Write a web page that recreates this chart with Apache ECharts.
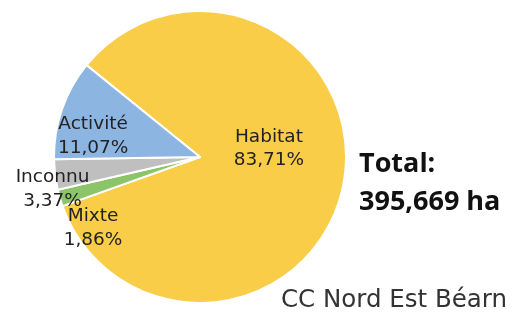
<!DOCTYPE html>
<html>
<head>
<meta charset="utf-8">
<script src="https://cdn.jsdelivr.net/npm/echarts@6/dist/echarts.min.js"></script>
<style>
  html, body { margin: 0; padding: 0; background: #fff; }
  #chart { width: 512px; height: 314px; }
</style>
</head>
<body>
<div id="chart"></div>
<script>
// données (ordre horaire depuis startAngle)
const categories = ['Habitat', 'Mixte', 'Inconnu', 'Activité'];
const values = [83.71, 1.86, 3.37, 11.07];
const labels = ['83,71%', '1,86%', '3,37%', '11,07%'];
const colors = ['#F9CD48', '#8CC46A', '#BFBFBF', '#8DB5E2'];
// décalage des étiquettes depuis la position "inside"
const labelOffsets = [[-6, -21], [-34, 50], [-72, 23], [-35, 4]];
const totalText = 'Total:\n395,669 ha';
const subText = 'CC Nord Est Béarn';

const chart = echarts.init(document.getElementById('chart'));

const data = categories.map(function (name, i) {
    return {
        name: name,
        value: values[i],
        itemStyle: { color: colors[i] },
        label: { offset: labelOffsets[i] }
    };
});

const option = {
    backgroundColor: '#fff',
    animation: false,
    title: [
        {
            text: totalText,
            left: 354,
            top: 140,
            textStyle: {
                fontFamily: 'Open Sans',
                fontWeight: 'bold',
                fontSize: 27,
                lineHeight: 38,
                color: '#111'
            }
        },
        {
            text: subText,
            right: 0,
            top: 283,
            textStyle: {
                fontFamily: 'DejaVu Sans',
                fontWeight: 'normal',
                fontSize: 24.5,
                color: '#333'
            }
        }
    ],
    series: [
        {
            type: 'pie',
            center: [200, 157],
            radius: 146,
            startAngle: 141,
            clockwise: true,
            avoidLabelOverlap: false,
            labelLayout: { hideOverlap: false },
            itemStyle: {
                borderColor: '#fff',
                borderWidth: 2
            },
            label: {
                show: true,
                position: 'inside',
                align: 'left',
                verticalAlign: 'middle',
                fontFamily: 'DejaVu Sans',
                fontSize: 18.5,
                lineHeight: 23.5,
                color: '#222',
                formatter: function (p) {
                    return p.name + '\n' + labels[p.dataIndex];
                }
            },
            labelLine: { show: false },
            emphasis: { disabled: true },
            data: data
        }
    ]
};

chart.setOption(option);
</script>
</body>
</html>
